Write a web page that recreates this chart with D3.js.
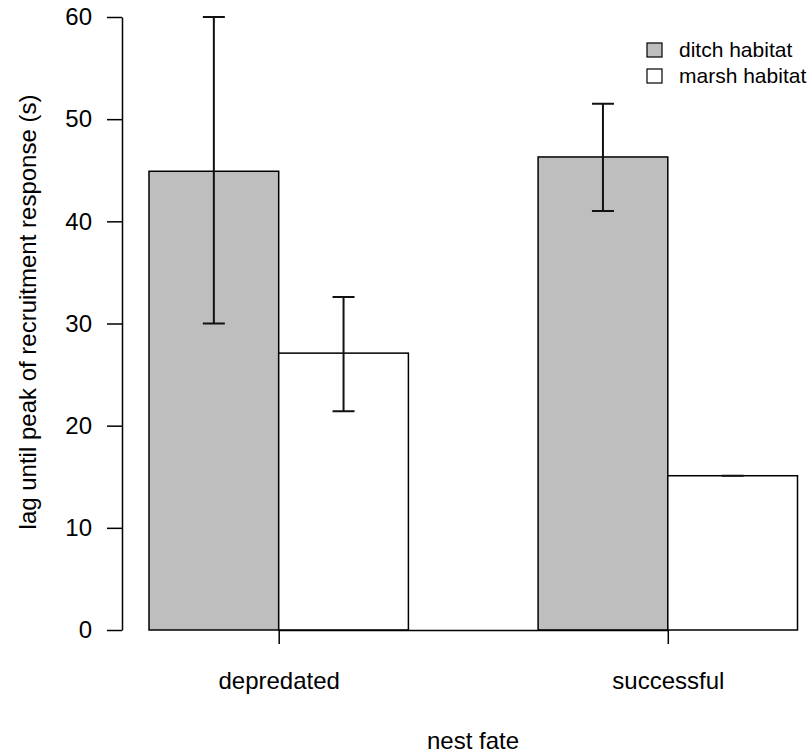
<!DOCTYPE html>
<html>
<head>
<meta charset="utf-8">
<script src="https://cdn.jsdelivr.net/npm/d3@7"></script>
<style>
  html, body { margin: 0; padding: 0; background: #fff; }
  svg { display: block; }
  text { font-family: "Liberation Sans", Arial, Helvetica, sans-serif; fill: #000; }
</style>
</head>
<body>
<svg id="chart" width="808" height="755"></svg>
<script>
// ---- data ----
const groups = ["depredated", "successful"];
const habitats = ["ditch habitat", "marsh habitat"];
const habitatFills = ["#bebebe", "#ffffff"];
const ditchMeans = [44.9, 46.3];
const marshMeans = [27.1, 15.1];
const ditchLower = [30.0, 41.0];
const ditchUpper = [60.0, 51.5];
const marshLower = [21.4, 15.1];
const marshUpper = [32.6, 15.1];
const yTicks = [0, 10, 20, 30, 40, 50, 60];
const xTitle = "nest fate";
const yTitle = "lag until peak of recruitment response (s)";

// ---- build table ----
const bars = [];
groups.forEach((g, gi) => {
  bars.push({ group: g, gi, hi: 0, mean: ditchMeans[gi], lo: ditchLower[gi], hiv: ditchUpper[gi] });
  bars.push({ group: g, gi, hi: 1, mean: marshMeans[gi], lo: marshLower[gi], hiv: marshUpper[gi] });
});

const svg = d3.select("#chart");

// x in "bar-width units": group gi occupies [3*gi, 3*gi+2]
const x = d3.scaleLinear().domain([0, 5]).range([149, 797.5]);
const y = d3.scaleLinear().domain([0, 60]).range([630, 17]);
const barLeft = d => x(d.gi * 3 + d.hi);
const barRight = d => x(d.gi * 3 + d.hi + 1);
const barCenter = d => x(d.gi * 3 + d.hi + 0.5);

// bars
svg.append("g").selectAll("rect").data(bars).join("rect")
  .attr("x", barLeft)
  .attr("y", d => y(d.mean))
  .attr("width", d => barRight(d) - barLeft(d))
  .attr("height", d => y(0) - y(d.mean))
  .attr("fill", d => habitatFills[d.hi])
  .attr("stroke", "#000")
  .attr("stroke-width", 1.5);

// error bars
const capHalf = 11;
const eb = svg.append("g").attr("stroke", "#111").attr("stroke-width", 2).attr("fill", "none");
eb.selectAll("path").data(bars).join("path")
  .attr("d", d => {
    const cx = barCenter(d), y1 = y(d.lo), y2 = y(d.hiv);
    return `M${cx},${y1}L${cx},${y2}M${cx - capHalf},${y1}L${cx + capHalf},${y1}M${cx - capHalf},${y2}L${cx + capHalf},${y2}`;
  });

// y axis
const yAxis = d3.axisLeft(y).tickValues(yTicks).tickSize(15).tickSizeOuter(0).tickPadding(15);
const gy = svg.append("g").attr("transform", "translate(122,0)").call(yAxis);
gy.select(".domain").attr("stroke", "#000").attr("stroke-width", 1.5);
gy.selectAll(".tick line").attr("stroke", "#000").attr("stroke-width", 1.5);
gy.selectAll(".tick text").style("font-size", "24px").attr("font-family", null);

// x axis (ticks at group centres, line from first to last tick)
const groupCenters = groups.map((g, gi) => x(gi * 3 + 1));
const xAxisScale = d3.scalePoint().domain(groups).range([groupCenters[0], groupCenters[1]]);
const xAxis = d3.axisBottom(xAxisScale).tickSize(14).tickSizeOuter(0).tickPadding(28);
const gx = svg.append("g").attr("transform", "translate(0,630)").call(xAxis);
gx.select(".domain").attr("stroke", "#000").attr("stroke-width", 1.5);
gx.selectAll(".tick line").attr("stroke", "#000").attr("stroke-width", 1.5);
gx.selectAll(".tick text").style("font-size", "24px").attr("font-family", null);

// titles
svg.append("text")
  .attr("x", 473).attr("y", 749)
  .attr("text-anchor", "middle")
  .style("font-size", "24px")
  .text(xTitle);

svg.append("text")
  .attr("transform", "translate(36,312) rotate(-90)")
  .attr("text-anchor", "middle")
  .style("font-size", "24px")
  .text(yTitle);

// legend
const lg = svg.append("g").attr("transform", "translate(647,43)");
const rowH = 26;
habitats.forEach((h, i) => {
  lg.append("rect")
    .attr("x", 0).attr("y", i * rowH)
    .attr("width", 15).attr("height", 14)
    .attr("fill", habitatFills[i])
    .attr("stroke", "#000").attr("stroke-width", 1.2);
  lg.append("text")
    .attr("x", 32).attr("y", i * rowH + 7)
    .attr("dy", "0.35em")
    .style("font-size", "21px")
    .text(h);
});
</script>
</body>
</html>
